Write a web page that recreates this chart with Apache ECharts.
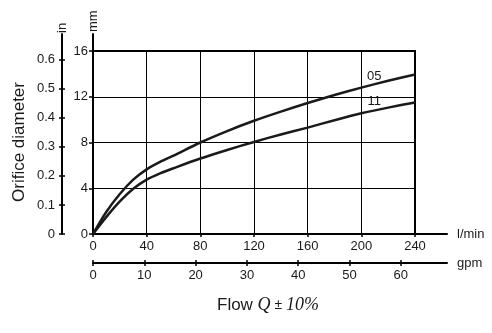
<!DOCTYPE html>
<html>
<head>
<meta charset="utf-8">
<title>Orifice diameter vs flow</title>
<script src="https://cdn.jsdelivr.net/npm/echarts@6/dist/echarts.min.js"></script>
<style>
  html, body { margin: 0; padding: 0; background: #fff; }
  #chart { width: 492px; height: 333px; }
</style>
</head>
<body>
<div id="chart"></div>
<script>
// Flow rate in l/min and orifice diameter in mm for two orifice types
const flow = [0, 10, 20, 30, 40, 50, 60, 80, 100, 120, 140, 160, 180, 200, 220, 240];
const dia05 = [0, 1.95, 3.5, 4.75, 5.65, 6.3, 6.85, 8.0, 9.0, 9.9, 10.7, 11.45, 12.15, 12.8, 13.4, 13.95];
const dia11 = [0, 1.5, 2.85, 3.95, 4.75, 5.3, 5.75, 6.6, 7.35, 8.05, 8.7, 9.3, 9.95, 10.55, 11.05, 11.5];

// Tick labels
const mmTicks = [0, 4, 8, 12, 16];
const inTicks = [0, 0.1, 0.2, 0.3, 0.4, 0.5, 0.6];
const lpmTicks = [0, 40, 80, 120, 160, 200, 240];
const gpmTicks = [0, 10, 20, 30, 40, 50, 60];

const FONT = "'Liberation Sans', Arial, sans-serif";
const SERIF = "'Liberation Serif', 'Times New Roman', serif";
const TXT = '#1a1a1a';

// Plot frame and scale extents
const plotH = 183, axisH = 200, plotW = 322, extW = 354;
const mmMax = 16 * axisH / plotH;      // mm axis runs a little above the plot frame
const inMax = mmMax / 25.4;            // inch axis on the same physical scale
const lpmMax = 240 * extW / plotW;     // l/min axis runs past the plot frame
const gpmMax = 69;

const hidden = { show: false };
const labelStyle = { color: TXT, fontSize: 13, fontFamily: FONT };

function seriesData(vals, labelText) {
  return flow.map((f, i) => {
    if (f === 200) {
      return {
        value: [f, vals[i]],
        label: {
          show: true, formatter: labelText, position: 'top',
          distance: 5, offset: [13, 0], color: TXT, fontSize: 13, fontFamily: FONT
        }
      };
    }
    return [f, vals[i]];
  });
}

function curve(name, vals) {
  return {
    name: name, type: 'line', xAxisIndex: 0, yAxisIndex: 0,
    smooth: 0.3,
    data: seriesData(vals, name),
    symbol: 'circle', symbolSize: 0.1, showSymbol: true, showAllSymbol: true,
    lineStyle: { color: '#1a1a1a', width: 2.5 }, itemStyle: { color: '#1a1a1a' },
    label: { show: false }, clip: false, z: 5
  };
}

const chart = echarts.init(document.getElementById('chart'), null, { renderer: 'canvas' });

chart.setOption({
  animation: false,
  backgroundColor: '#fff',
  textStyle: { fontFamily: FONT },
  grid: [
    { left: 93, top: 51, width: plotW, height: plotH, show: true, borderColor: '#000', borderWidth: 2, containLabel: false },
    { left: 93, top: 34, width: plotW, height: axisH, containLabel: false },
    { left: 62, top: 34, width: 10, height: axisH, containLabel: false },
    { left: 93, top: 233, width: extW, height: 1, containLabel: false },
    { left: 93, top: 262, width: extW, height: 1, containLabel: false }
  ],
  xAxis: [
    {
      gridIndex: 0, type: 'value', min: 0, max: 240, interval: 40,
      axisLine: hidden, axisTick: hidden, axisLabel: hidden,
      splitLine: { show: true, lineStyle: { color: '#000', width: 1 } }
    },
    { gridIndex: 1, type: 'value', show: false, min: 0, max: 1 },
    { gridIndex: 2, type: 'value', show: false, min: 0, max: 1 },
    {
      gridIndex: 3, type: 'value', min: 0, max: lpmMax, position: 'bottom',
      name: 'l/min', nameLocation: 'end', nameGap: 10,
      nameTextStyle: { color: TXT, fontSize: 13, fontFamily: FONT, verticalAlign: 'middle', padding: [4, 0, 0, 0] },
      axisLine: { show: true, lineStyle: { color: '#000', width: 2 } },
      axisTick: { show: true, length: 3, customValues: lpmTicks, lineStyle: { color: '#000', width: 1.5 } },
      axisLabel: Object.assign({ customValues: lpmTicks, margin: 6 }, labelStyle),
      splitLine: hidden
    },
    {
      gridIndex: 4, type: 'value', min: 0, max: gpmMax, position: 'bottom',
      name: 'gpm', nameLocation: 'end', nameGap: 10,
      nameTextStyle: { color: TXT, fontSize: 13, fontFamily: FONT, verticalAlign: 'middle' },
      axisLine: { show: true, lineStyle: { color: '#000', width: 2 } },
      axisTick: { show: true, length: 3, customValues: gpmTicks, lineStyle: { color: '#000', width: 1.5 } },
      axisLabel: Object.assign({ customValues: gpmTicks, margin: 6 }, labelStyle),
      splitLine: hidden
    },
    {
      gridIndex: 4, type: 'value', min: 0, max: gpmMax, position: 'bottom',
      axisLine: hidden, axisLabel: hidden, splitLine: hidden,
      axisTick: { show: true, inside: true, length: 3, customValues: gpmTicks, lineStyle: { color: '#000', width: 1.5 } }
    }
  ],
  yAxis: [
    {
      gridIndex: 0, type: 'value', min: 0, max: 16, interval: 4,
      axisLine: hidden, axisTick: hidden, axisLabel: hidden,
      splitLine: { show: true, lineStyle: { color: '#000', width: 1 } }
    },
    {
      gridIndex: 1, type: 'value', min: 0, max: mmMax, position: 'left',
      name: 'mm', nameLocation: 'end', nameGap: 2, nameRotate: 90,
      nameTextStyle: { color: TXT, fontSize: 13, fontFamily: FONT, padding: [0, 0, 3, 0] },
      axisLine: { show: true, lineStyle: { color: '#000', width: 2 } },
      axisTick: { show: true, length: 4, customValues: mmTicks, lineStyle: { color: '#000', width: 1.5 } },
      axisLabel: Object.assign({ customValues: mmTicks, margin: 5 }, labelStyle),
      splitLine: hidden
    },
    {
      gridIndex: 2, type: 'value', min: 0, max: inMax, position: 'left',
      name: 'in', nameLocation: 'end', nameGap: 1, nameRotate: 90,
      nameTextStyle: { color: TXT, fontSize: 13, fontFamily: FONT },
      axisLine: { show: true, lineStyle: { color: '#000', width: 2 } },
      axisTick: { show: true, length: 3, customValues: inTicks, lineStyle: { color: '#000', width: 1.5 } },
      axisLabel: Object.assign({ customValues: inTicks, margin: 7, formatter: v => (v === 0 ? '0' : v.toFixed(1)) }, labelStyle),
      splitLine: hidden
    },
    {
      gridIndex: 2, type: 'value', min: 0, max: inMax, position: 'left',
      axisLine: hidden, axisLabel: hidden, splitLine: hidden,
      axisTick: { show: true, inside: true, length: 3, customValues: inTicks, lineStyle: { color: '#000', width: 1.5 } }
    },
    { gridIndex: 3, type: 'value', show: false, min: 0, max: 1 },
    { gridIndex: 4, type: 'value', show: false, min: 0, max: 1 }
  ],
  title: {
    left: 212, top: 291,
    text: '{a|Flow }{b|Q}{c| ± }{b|10%}',
    textStyle: {
      fontWeight: 'normal',
      rich: {
        a: { fontFamily: FONT, fontSize: 17, fontWeight: 'normal', color: TXT },
        b: { fontFamily: SERIF, fontStyle: 'italic', fontWeight: 'normal', fontSize: 18, color: TXT },
        c: { fontFamily: FONT, fontSize: 14, fontWeight: 'normal', color: TXT }
      }
    }
  },
  graphic: [
    {
      type: 'text', x: 19, y: 142, rotation: Math.PI / 2,
      style: { text: 'Orifice diameter', fill: TXT, font: "17px 'Liberation Sans', Arial, sans-serif", align: 'center', verticalAlign: 'middle' }
    }
  ],
  series: [curve('05', dia05), curve('11', dia11)]
});
</script>
</body>
</html>
